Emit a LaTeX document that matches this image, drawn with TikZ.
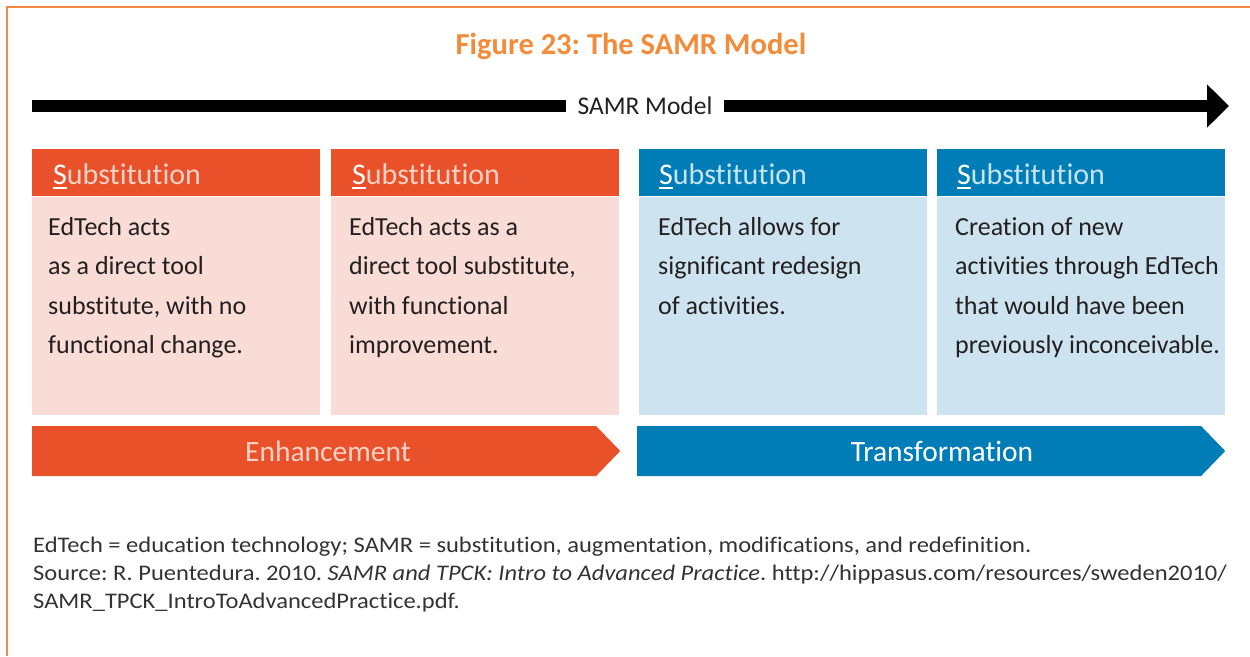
\documentclass[tikz,border=0pt]{standalone}
\usepackage{fontspec}
\setmainfont{Carlito}[RawFeature=-liga]
\newfontfamily\footfont{Carlito}[RawFeature=-liga, FakeStretch=1.1]
\usetikzlibrary{arrows.meta,shapes.symbols,calc}
\definecolor{orng}{HTML}{E9512B}
\definecolor{pinkbg}{HTML}{F9DCD5}
\definecolor{blu}{HTML}{007DB7}
\definecolor{bluebg}{HTML}{CDE4F0}
\definecolor{titlecol}{HTML}{F28C3A}
\definecolor{bordercol}{HTML}{F08A46}
\definecolor{peach}{HTML}{F9D2C6}
\definecolor{lightblu}{HTML}{C5E3F2}
\definecolor{darktext}{HTML}{231F20}
\definecolor{foottext}{HTML}{333333}
\newcommand\ulS{\setbox0\hbox{S}\rlap{\textcolor{white}{\rule[-5pt]{\wd0}{2pt}}}\textcolor{white}{S}}
\frenchspacing
\begin{document}
\begin{tikzpicture}[x=1pt,y=-1pt,
  hdr/.style={rectangle, inner sep=0pt, minimum width=288pt, minimum height=47pt, anchor=north west},
  bodybox/.style={rectangle, inner sep=0pt, minimum width=288pt, minimum height=218pt, anchor=north west},
  hdrtxt/.style={inner sep=0pt, anchor=base west, font=\fontsize{30}{36}\selectfont},
  bodytxt/.style={inner sep=0pt, anchor=north west, align=left, text=darktext, font=\fontsize{26}{39.3}\selectfont},
  chev/.style={signal, signal to=east, signal from=nowhere, signal pointer angle=92, inner sep=0pt, minimum width=588pt, minimum height=50pt, anchor=west},
  chevtxt/.style={inner sep=0pt, font=\fontsize{29.5}{34}\selectfont},
  foot/.style={inner sep=0pt, anchor=base west, text=foottext, font=\footfont\fontsize{22.3}{28}\selectfont}
]
\useasboundingbox (0,0) rectangle (1250,656);
\draw[bordercol, line width=1.5pt] (7,656) -- (7,7) -- (1250,7);

\node[anchor=base, inner sep=0pt, text=titlecol, font=\fontsize{30.5}{34}\selectfont\bfseries] (title) at (631,54) {Figure 23: The SAMR Model};

\coordinate (aL) at (32,106);
\coordinate (aR) at (1229,106);
\draw[line width=12pt, -{Triangle[length=22pt,width=42pt]}] (aL) -- (aR);
\node[fill=white, inner xsep=12pt, inner ysep=2pt, text=darktext, font=\fontsize{25.5}{30}\selectfont] (samr) at (645,106) {SAMR Model};

% headers
\node[hdr, fill=orng] (h1) at (32,149) {};
\node[hdr, fill=orng] (h2) at (331,149) {};
\node[hdr, fill=blu] (h3) at (639,149) {};
\node[hdr, fill=blu] (h4) at (937,149) {};
\node[hdrtxt, text=peach] (t1) at ($(h1.south west)+(21,-12)$) {\ulS ubstitution};
\node[hdrtxt, text=peach] (t2) at ($(h2.south west)+(21,-12)$) {\ulS ubstitution};
\node[hdrtxt, text=lightblu] (t3) at ($(h3.south west)+(20,-12)$) {\ulS ubstitution};
\node[hdrtxt, text=lightblu] (t4) at ($(h4.south west)+(20,-12)$) {\ulS ubstitution};

% bodies
\node[bodybox, fill=pinkbg] (b1) at (h1.south west) {};
\node[bodybox, fill=pinkbg] (b2) at (h2.south west) {};
\node[bodybox, fill=bluebg] (b3) at (h3.south west) {};
\node[bodybox, fill=bluebg] (b4) at (h4.south west) {};
\node[bodytxt] (bt1) at ($(b1.north west)+(16,11.5)$) {\strut EdTech acts\\as a direct tool\\substitute, with no\\functional change.};
\node[bodytxt] (bt2) at ($(b2.north west)+(18,11.5)$) {\strut EdTech acts as a\\direct tool substitute,\\with functional\\improvement.};
\node[bodytxt] (bt3) at ($(b3.north west)+(19,11.5)$) {\strut EdTech allows for\\significant redesign\\of activities.};
\node[bodytxt] (bt4) at ($(b4.north west)+(18,11.5)$) {\strut Creation of new\\activities through EdTech\\that would have been\\previously inconceivable.};

% chevrons
\node[chev, fill=orng] (enh) at (32,451) {};
\node[chev, fill=blu] (trans) at (637,451) {};
\node[chevtxt, text=peach] (enhtxt) at (328,451) {Enhancement};
\node[chevtxt, text=white] (transtxt) at (942,451) {Transformation};

% footnotes
\node[foot] (f1) at (33,552) {EdTech = education technology; SAMR = substitution, augmentation, modifications, and redefinition.};
\node[foot] (f2) at (33,580) {Source: R. Puentedura. 2010. \textit{SAMR and TPCK: Intro to Advanced Practice}. http://hippasus.com/resources/sweden2010/};
\node[foot] (f3) at (33,608) {SAMR\_TPCK\_IntroToAdvancedPractice.pdf.};
\end{tikzpicture}
\end{document}
